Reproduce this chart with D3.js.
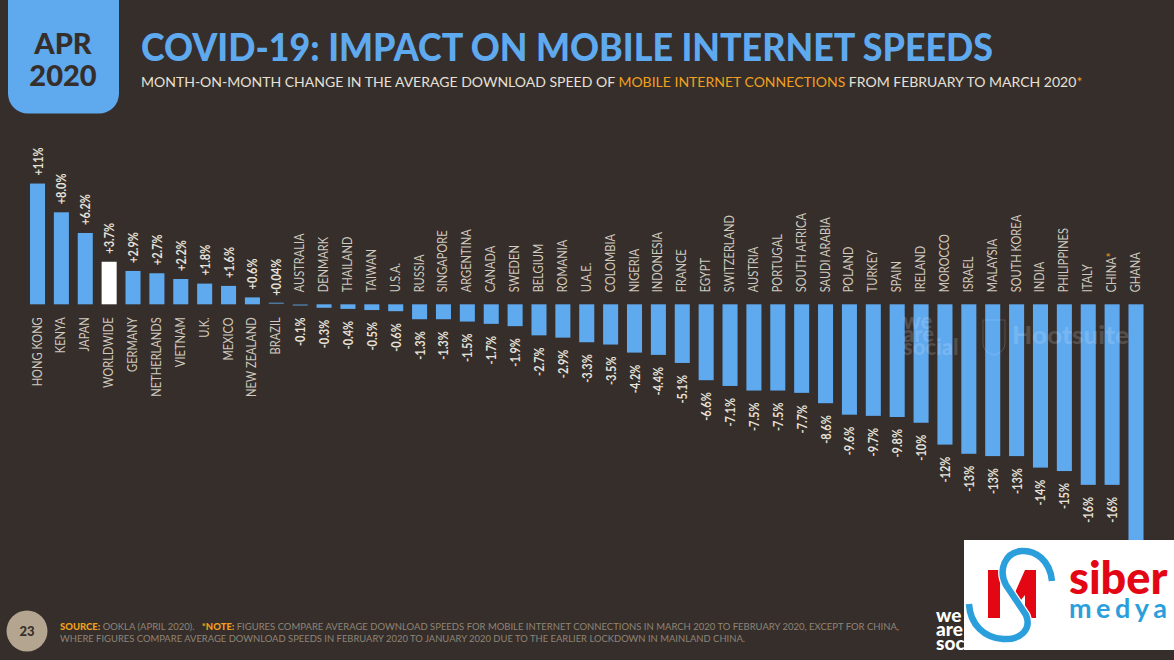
<!DOCTYPE html>
<html>
<head>
<meta charset="utf-8">
<script src="https://cdn.jsdelivr.net/npm/d3@7"></script>
<style>
  html, body { margin: 0; padding: 0; background: #362e2a; }
  svg { display: block; }
  text { font-family: Lato, "Open Sans", sans-serif; }
</style>
</head>
<body>
<div id="chart"></div>
<script>
const countries = [
  "HONG KONG", "KENYA", "JAPAN", "WORLDWIDE", "GERMANY", "NETHERLANDS", "VIETNAM", "U.K.",
  "MEXICO", "NEW ZEALAND", "BRAZIL", "AUSTRALIA", "DENMARK", "THAILAND", "TAIWAN", "U.S.A.",
  "RUSSIA", "SINGAPORE", "ARGENTINA", "CANADA", "SWEDEN", "BELGIUM", "ROMANIA", "U.A.E.",
  "COLOMBIA", "NIGERIA", "INDONESIA", "FRANCE", "EGYPT", "SWITZERLAND", "AUSTRIA", "PORTUGAL",
  "SOUTH AFRICA", "SAUDI ARABIA", "POLAND", "TURKEY", "SPAIN", "IRELAND", "MOROCCO", "ISRAEL",
  "MALAYSIA", "SOUTH KOREA", "INDIA", "PHILIPPINES", "ITALY", "CHINA", "GHANA"
];

// Bar lengths, where the printed label is rounded
const changes = [
  10.5, 8.0, 6.2, 3.7, 2.9, 2.7, 2.2, 1.8,
  1.6, 0.6, 0.04, -0.1, -0.3, -0.4, -0.5, -0.6,
  -1.3, -1.3, -1.5, -1.7, -1.9, -2.7, -2.9, -3.3,
  -3.5, -4.2, -4.4, -5.1, -6.6, -7.1, -7.5, -7.5,
  -7.7, -8.6, -9.6, -9.7, -9.8, -10.3, -12.2, -13.0,
  -13.2, -13.2, -14.2, -14.5, -15.7, -15.7, -21
];

// Ghana's label sits under the logo in the reference
const valueLabels = [
  "+11%", "+8.0%", "+6.2%", "+3.7%", "+2.9%", "+2.7%", "+2.2%", "+1.8%",
  "+1.6%", "+0.6%", "+0.04%", "-0.1%", "-0.3%", "-0.4%", "-0.5%", "-0.6%",
  "-1.3%", "-1.3%", "-1.5%", "-1.7%", "-1.9%", "-2.7%", "-2.9%", "-3.3%",
  "-3.5%", "-4.2%", "-4.4%", "-5.1%", "-6.6%", "-7.1%", "-7.5%", "-7.5%",
  "-7.7%", "-8.6%", "-9.6%", "-9.7%", "-9.8%", "-10%", "-12%", "-13%",
  "-13%", "-13%", "-14%", "-15%", "-16%", "-16%", ""
];

const blue = "#5fa9ef";
const orange = "#f0a01e";
const background = "#362e2a";

const data = countries.map((country, i) => ({
  country,
  change: changes[i],
  label: valueLabels[i]
}));

const svg = d3.select("#chart")
  .append("svg")
    .attr("width", 1174)
    .attr("height", 660)
    .attr("viewBox", "0 0 1174 660");

svg.append("rect")
  .attr("width", 1174)
  .attr("height", 660)
  .attr("fill", background);

// Scales
const xScale = d3.scaleBand()
  .domain(countries)
  .range([25.56, 1147.94])
  .paddingInner(0.37)
  .paddingOuter(0.185);

const yScale = d3.scaleLinear()
  .domain([0, -10])
  .range([304.3, 419.3]);

const barCentre = d => xScale(d.country) + xScale.bandwidth() / 2;

// Header
svg.append("rect")
  .attr("x", 8)
  .attr("y", -30)
  .attr("width", 111)
  .attr("height", 143.5)
  .attr("rx", 20)
  .attr("fill", blue);

svg.selectAll(".date")
  .data([["APR", 54], ["2020", 86]])
  .join("text")
    .attr("class", "date")
    .attr("x", 63)
    .attr("y", d => d[1])
    .attr("text-anchor", "middle")
    .attr("font-size", 29)
    .attr("font-weight", 900)
    .attr("fill", background)
    .text(d => d[0]);

svg.append("text")
  .attr("x", 141)
  .attr("y", 61)
  .attr("font-size", 37)
  .attr("font-weight", 900)
  .attr("fill", blue)
  .attr("textLength", 852)
  .attr("lengthAdjust", "spacingAndGlyphs")
  .text("COVID-19: IMPACT ON MOBILE INTERNET SPEEDS");

const subtitle = svg.append("text")
  .attr("x", 141)
  .attr("y", 87)
  .attr("font-size", 15);

[
  ["MONTH-ON-MONTH CHANGE IN THE AVERAGE DOWNLOAD SPEED OF ", "#e6e1d8"],
  ["MOBILE INTERNET CONNECTIONS", orange],
  [" FROM FEBRUARY TO MARCH 2020", "#e6e1d8"],
  ["*", orange]
].forEach(part => {
  subtitle.append("tspan").attr("fill", part[1]).text(part[0]);
});

// Size the subtitle so it ends where the reference's does
subtitle.attr("font-size", 15 * 942 / subtitle.node().getComputedTextLength());

// Bars, the tiniest ones still show as a thin line
svg.append("g")
  .selectAll("rect")
  .data(data)
  .join("rect")
    .attr("x", d => xScale(d.country))
    .attr("y", d => d.change >= 0 ? yScale(d.change) - (d.change < 0.13 ? 1.3 : 0) : yScale(0))
    .attr("width", xScale.bandwidth())
    .attr("height", d => Math.max(Math.abs(yScale(d.change) - yScale(0)), 1.5))
    .attr("fill", d => d.country === "WORLDWIDE" ? "#ffffff" : blue)
    .attr("fill-opacity", d => Math.abs(d.change) < 0.13 ? 0.6 : 1);

// Country names sit on the opposite side of the zero line from the bar
const names = svg.append("g")
  .selectAll("text")
  .data(data)
  .join("text")
    .attr("transform", d => {
      const y = d.change >= 0 ? yScale(0) + 13 : yScale(0) - 12;
      return `translate(${barCentre(d) + 4},${y}) rotate(-90) scale(0.91,1.05)`;
    })
    .attr("text-anchor", d => d.change >= 0 ? "end" : "start")
    .attr("font-size", 12.2)
    .attr("fill", "#cfc9be");

names.append("tspan").text(d => d.country);
names.filter(d => d.country === "CHINA")
  .append("tspan")
    .attr("fill", orange)
    .text("*");

// Value labels
svg.append("g")
  .selectAll("text")
  .data(data.filter(d => d.label))
  .join("text")
    .attr("transform", d => {
      const y = d.change >= 0 ? yScale(d.change) - 8 : yScale(d.change) + 12;
      return `translate(${barCentre(d) + 5},${y}) rotate(-90) scale(0.92,1.08)`;
    })
    .attr("text-anchor", d => d.change >= 0 ? "start" : "end")
    .attr("font-size", 12)
    .attr("font-weight", 700)
    .attr("fill", "#e6e2da")
    .text(d => d.label);

// Stacked "we are social" wordmark, one text element with a tspan per line
const addWordmark = (parent, x, y, size, pitch) => {
  const wordmark = parent.append("text")
    .attr("font-size", size)
    .attr("font-weight", 900);

  ["we", "are", "social"].forEach((word, i) => {
    wordmark.append("tspan")
      .attr("x", x)
      .attr("y", y + i * pitch)
      .text(word);
  });

  return wordmark;
};

// Watermarks
const watermark = svg.append("g")
  .attr("fill", "#ffffff")
  .attr("fill-opacity", 0.16)
  .attr("font-weight", 900);

addWordmark(watermark, 903, 329, 22, 13);

watermark.append("text")
  .attr("x", 1012)
  .attr("y", 344)
  .attr("font-size", 25)
  .attr("textLength", 117)
  .attr("lengthAdjust", "spacingAndGlyphs")
  .text("Hootsuite");

watermark.append("path")
  .attr("d", "M983,320H1005V343Q1005,352 994,355Q983,352 983,343Z")
  .attr("fill", "none")
  .attr("stroke", "#ffffff")
  .attr("stroke-opacity", 0.16);

// Footer
svg.append("circle")
  .attr("cx", 27)
  .attr("cy", 631)
  .attr("r", 20.5)
  .attr("fill", "#b3a58f");

svg.append("text")
  .attr("x", 27)
  .attr("y", 636)
  .attr("text-anchor", "middle")
  .attr("font-size", 13)
  .attr("font-weight", 900)
  .attr("fill", background)
  .text("23");

const footerLines = [
  {
    y: 630,
    length: 839,
    parts: [
      ["SOURCE:", true],
      [" OOKLA (APRIL 2020).\u00a0\u00a0\u00a0", false],
      ["*NOTE:", true],
      [" FIGURES COMPARE AVERAGE DOWNLOAD SPEEDS FOR MOBILE INTERNET CONNECTIONS IN MARCH 2020 TO FEBRUARY 2020, EXCEPT FOR CHINA,", false]
    ]
  },
  {
    y: 642,
    length: 685,
    parts: [
      ["WHERE FIGURES COMPARE AVERAGE DOWNLOAD SPEEDS IN FEBRUARY 2020 TO JANUARY 2020 DUE TO THE EARLIER LOCKDOWN IN MAINLAND CHINA.", false]
    ]
  }
];

footerLines.forEach(line => {
  const text = svg.append("text")
    .attr("x", 60)
    .attr("y", line.y)
    .attr("font-size", 9.5)
    .attr("textLength", line.length)
    .attr("lengthAdjust", "spacingAndGlyphs");

  line.parts.forEach(part => {
    text.append("tspan")
      .attr("fill", part[1] ? orange : "#8f8577")
      .attr("font-weight", part[1] ? 900 : 400)
      .text(part[0]);
  });
});

// Corner logo, partly covered by the overlay below
addWordmark(svg, 936, 621.5, 19, 14.2)
  .attr("fill", "#ffffff");

// Overlay logo
const logo = svg.append("g");

logo.append("rect")
  .attr("x", 964)
  .attr("y", 540)
  .attr("width", 210)
  .attr("height", 110)
  .attr("fill", "#ffffff");

logo.append("path")
  .attr("d", "M988,570H1000L1013,597L1025,570H1036V618H1025V595L1017,605L1000,578V618H988Z")
  .attr("fill", "#e30613");

const sCurve = "M1052,581C1050,560 1035,550 1022,551C1005,552 998,570 1006,585L1026,615C1032,630 1020,640 1003,639C985,638 970,625 969,604";

logo.append("path")
  .attr("d", sCurve)
  .attr("fill", "none")
  .attr("stroke", "#ffffff")
  .attr("stroke-width", 9);

logo.append("path")
  .attr("d", sCurve)
  .attr("fill", "none")
  .attr("stroke", "#2b9fdc")
  .attr("stroke-width", 6.5);

logo.append("text")
  .attr("x", 1069)
  .attr("y", 594)
  .attr("font-size", 45)
  .attr("font-weight", 900)
  .attr("fill", "#e30613")
  .text("siber");

logo.append("text")
  .attr("x", 1069)
  .attr("y", 618)
  .attr("font-size", 27)
  .attr("font-weight", 700)
  .attr("fill", "#2b9fdc")
  .attr("letter-spacing", 4.5)
  .text("medya");
</script>
</body>
</html>
